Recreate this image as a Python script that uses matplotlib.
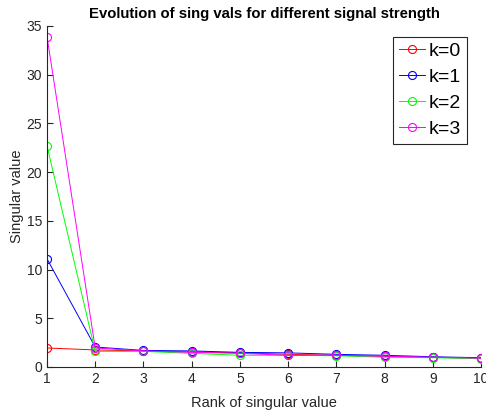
import numpy as np
import matplotlib
matplotlib.use('Agg')
import matplotlib.pyplot as plt

plt.rcParams['font.family'] = ['Liberation Sans', 'DejaVu Sans']

rank = np.arange(1, 11)
k0 = [1.95, 1.75, 1.65, 1.55, 1.45, 1.3, 1.2, 1.1, 1.0, 0.9]
k1 = [11.1, 2.05, 1.7, 1.65, 1.5, 1.45, 1.3, 1.2, 1.05, 0.95]
k2 = [22.7, 1.6, 1.6, 1.4, 1.2, 1.2, 1.15, 1.0, 0.95, 0.85]
k3 = [33.9, 1.95, 1.65, 1.5, 1.4, 1.2, 1.2, 1.1, 1.0, 0.9]
series = [k0, k1, k2, k3]
labels = ['k=0', 'k=1', 'k=2', 'k=3']
colors = ['#ff0000', '#0000ff', '#00ff00', '#ff00ff']

fig = plt.figure(figsize=(4.86, 4.13), dpi=100)
ax = fig.add_axes([0.0967, 0.1114, 0.893, 0.826])

for vals, lab, col in zip(series, labels, colors):
    ax.plot(rank, vals, color=col, lw=0.7, marker='o', markersize=5.8,
            markerfacecolor='none', markeredgecolor=col, markeredgewidth=0.8,
            label=lab)

ax.set_xlim(1, 10)
ax.set_ylim(0, 35)
ax.set_xticks(rank)
ax.set_yticks(np.arange(0, 36, 5))
for s in ['top', 'right']:
    ax.spines[s].set_visible(False)
for s in ['left', 'bottom']:
    ax.spines[s].set_color('#262626')
    ax.spines[s].set_linewidth(0.8)
ax.tick_params(direction='in', length=4, width=0.8, colors='#262626',
               labelsize=10)
ax.set_xlabel('Rank of singular value', fontsize=10.5, color='#262626',
              labelpad=7)
ax.set_ylabel('Singular value', fontsize=10.5, color='#262626', labelpad=2)
ax.set_title('Evolution of sing vals for different signal strength',
             fontsize=10.7, fontweight='bold', pad=6)

leg = ax.legend(loc='upper right', bbox_to_anchor=(0.968, 0.968), fontsize=14,
                fancybox=False, edgecolor='#262626', framealpha=1,
                handlelength=1.35, borderpad=0.3, labelspacing=0.43,
                handletextpad=0.2, borderaxespad=0.0)
leg.get_frame().set_linewidth(0.8)

fig.savefig('out.png', dpi=100)
